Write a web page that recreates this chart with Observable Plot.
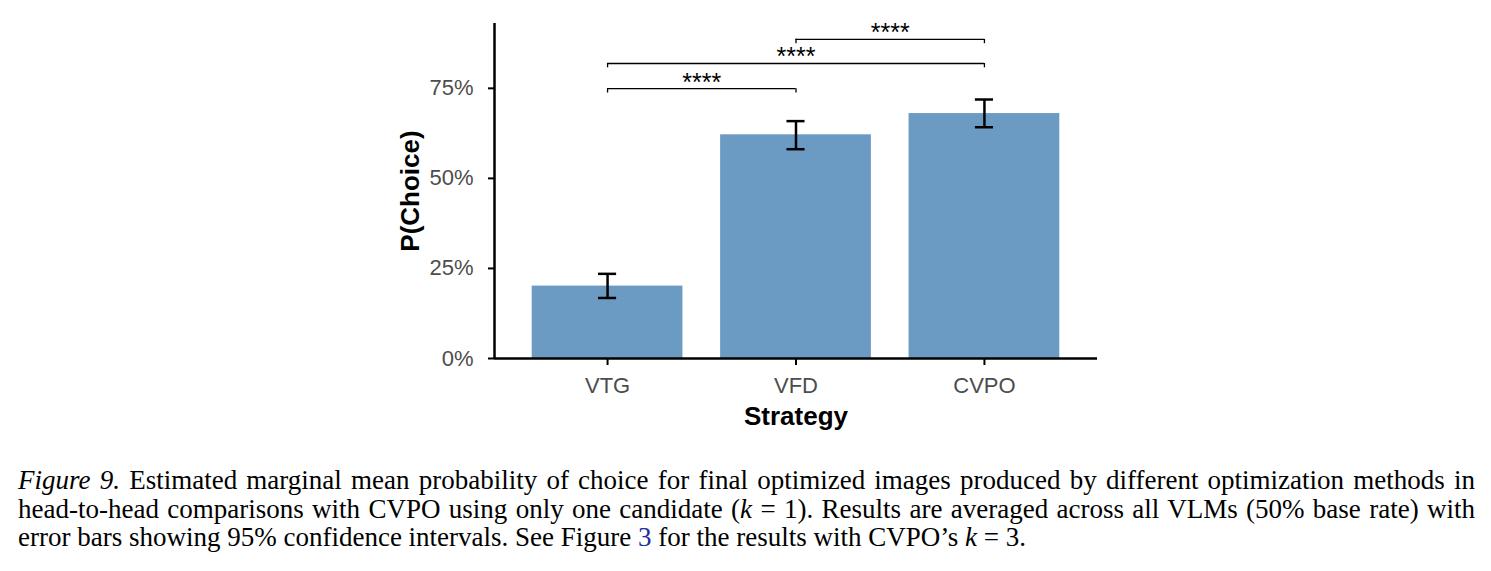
<!DOCTYPE html>
<html>
<head>
<meta charset="utf-8">
<script src="https://cdn.jsdelivr.net/npm/d3@7"></script>
<script src="https://cdn.jsdelivr.net/npm/@observablehq/plot@0.6"></script>
<style>
  html, body { margin: 0; padding: 0; background: #fff; }
  #chart svg { display: block; }
  .cap { position: absolute; left: 18px; top: 466px; width: 1457px;
         font-family: "Liberation Serif", "Times New Roman", serif;
         font-size: 27px; line-height: 28.5px; color: #000; }
  .cap div { white-space: nowrap; }
  .cap .j { text-align: justify; text-align-last: justify; }
  .cap .link { color: #1c2f9c; }
</style>
</head>
<body>
<div id="chart"></div>
<div class="cap">
  <div class="j"><i>Figure 9.</i>&nbsp;Estimated marginal mean probability of choice for final optimized images produced by different optimization methods in</div>
  <div class="j">head-to-head comparisons with CVPO using only one candidate (<i>k</i> = 1). Results are averaged across all VLMs (50% base rate) with</div>
  <div>error bars showing 95% confidence intervals. See Figure <span class="link">3</span> for the results with CVPO’s <i>k</i> = 3.</div>
</div>
<script>
// ---- data ----
const strategies = ["VTG", "VFD", "CVPO"];
const pChoice = [0.201, 0.621, 0.680];
const ciLow = [0.168, 0.581, 0.642];
const ciHigh = [0.235, 0.659, 0.719];
const yTicks = [0, 0.25, 0.5, 0.75];
const bracketFrom = ["VTG", "VTG", "VFD"];
const bracketTo = ["VFD", "CVPO", "CVPO"];
const bracketY = [0.749, 0.819, 0.886];
const bracketLabels = ["****", "****", "****"];
const xTitle = "Strategy";
const yTitle = "P(Choice)";

// ---- derived tables ----
const pos = new Map(strategies.map((s, i) => [s, i + 1]));
const rows = strategies.map((s, i) => ({strategy: s, x: i + 1, p: pChoice[i], lo: ciLow[i], hi: ciHigh[i]}));
const brackets = bracketY.map((y, i) => ({x1: pos.get(bracketFrom[i]), x2: pos.get(bracketTo[i]), y, label: bracketLabels[i]}));
const ends = brackets.flatMap(b => [{x: b.x1, y: b.y}, {x: b.x2, y: b.y}]);

const halfBar = 0.4, halfCap = 0.048, drop = 0.012;

const plot = Plot.plot({
  width: 1491,
  height: 445,
  marginLeft: 494,
  marginRight: 394,
  marginTop: 23,
  marginBottom: 87,
  style: {fontFamily: "'Liberation Sans', Arial, Helvetica, sans-serif", background: "#fff", color: "#000"},
  x: {type: "linear", domain: [0.4, 3.6], axis: null},
  y: {domain: [0, 0.93], axis: null},
  marks: [
    Plot.rectY(rows, {x1: d => d.x - halfBar, x2: d => d.x + halfBar, y1: 0, y2: "p", fill: "#6B9BC3"}),
    Plot.ruleX(rows, {x: "x", y1: "lo", y2: "hi", stroke: "black", strokeWidth: 2.5}),
    Plot.ruleY(rows, {y: "lo", x1: d => d.x - halfCap, x2: d => d.x + halfCap, stroke: "black", strokeWidth: 2.5}),
    Plot.ruleY(rows, {y: "hi", x1: d => d.x - halfCap, x2: d => d.x + halfCap, stroke: "black", strokeWidth: 2.5}),
    // significance brackets
    Plot.ruleY(brackets, {y: "y", x1: "x1", x2: "x2", stroke: "black", strokeWidth: 1.3}),
    Plot.ruleX(ends, {x: "x", y1: "y", y2: d => d.y - drop, stroke: "black", strokeWidth: 1.3}),
    Plot.text(brackets, {x: d => (d.x1 + d.x2) / 2, y: "y", text: "label", fontSize: 25, lineAnchor: "bottom", dy: 2, fill: "black"}),
    // axes
    Plot.axisY(yTicks, {tickFormat: d3.format(".0%"), tickSize: 6, tickPadding: 15, fontSize: 22, fill: "#4d4d4d", stroke: "black", strokeWidth: 2, label: null}),
    Plot.axisX([1, 2, 3], {tickFormat: i => strategies[i - 1], tickSize: 7, tickPadding: 12, fontSize: 22, fill: "#4d4d4d", stroke: "black", strokeWidth: 2, label: null}),
    Plot.ruleY([0], {stroke: "black", strokeWidth: 2.5}),
    Plot.ruleX([0.4], {stroke: "black", strokeWidth: 2.5}),
    // axis titles
    Plot.text([yTitle], {frameAnchor: "left", dx: -84, rotate: -90, textAnchor: "middle", lineAnchor: "middle", fontSize: 26, fontWeight: "bold", fill: "black"}),
    Plot.text([xTitle], {frameAnchor: "bottom", dy: 58, textAnchor: "middle", lineAnchor: "middle", fontSize: 26, fontWeight: "bold", fill: "black"})
  ]
});
document.getElementById("chart").appendChild(plot);
</script>
</body>
</html>
